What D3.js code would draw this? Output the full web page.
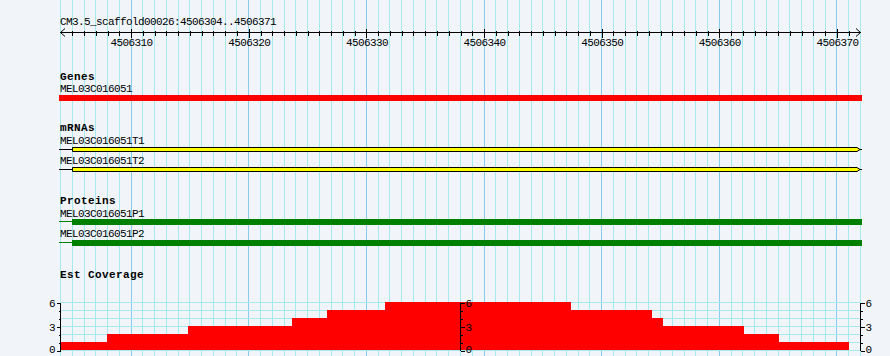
<!DOCTYPE html>
<html>
<head>
<meta charset="utf-8">
<script src="https://cdn.jsdelivr.net/npm/d3@7"></script>
<style>
  html, body { margin: 0; padding: 0; background: #f1f5fa; }
  svg { display: block; }
  text { font-family: "Liberation Mono", "DejaVu Sans Mono", monospace; fill: #000; }
</style>
</head>
<body>
<svg id="chart" width="890" height="356"></svg>
<script>
// ---------------- data ----------------
const refName = "CM3.5_scaffold00026";
const regionStart = 4506304;
const regionEnd = 4506371;
const majorTicks = [4506310, 4506320, 4506330, 4506340, 4506350, 4506360, 4506370];

const geneNames = ["MEL03C016051"];
const geneStarts = [4506304];
const geneEnds = [4506372];

const mrnaNames = ["MEL03C016051T1", "MEL03C016051T2"];
const mrnaStarts = [4506305, 4506305];
const mrnaEnds = [4506372, 4506372];

const proteinNames = ["MEL03C016051P1", "MEL03C016051P2"];
const proteinStarts = [4506305, 4506305];
const proteinEnds = [4506372, 4506372];

const covStarts = [4506304, 4506308.0, 4506314.88, 4506323.72, 4506326.7, 4506331.6, 4506347.4, 4506354.3, 4506355.25, 4506362.1, 4506365.1];
const covEnds   = [4506308.0, 4506314.88, 4506323.72, 4506326.7, 4506331.6, 4506347.4, 4506354.3, 4506355.25, 4506362.1, 4506365.1, 4506371.05];
const covValues = [1, 2, 3, 4, 5, 6, 5, 4, 3, 2, 1];
const covTicks = [0, 3, 6];
const covMinor = [1, 2, 4, 5];

// ---------------- drawing ----------------
const W = 890, H = 356;
const FONT = "Liberation Mono";
const svg = d3.select("#chart");
svg.append("rect").attr("width", W).attr("height", H).attr("fill", "#f1f5fa");

const x = d3.scaleLinear().domain([regionStart, regionEnd + 1]).range([60, 860]);
const px = v => Math.round(x(v)) + 0.5;

// vertical grid
const gridG = svg.append("g").attr("shape-rendering", "crispEdges");
gridG.selectAll("line").data(d3.range(regionStart, regionEnd + 2)).join("line")
  .attr("x1", d => px(d)).attr("x2", d => px(d))
  .attr("y1", 0).attr("y2", H)
  .attr("stroke", d => d % 10 === 0 ? "#86cdea" : "#a6e9ef")
  .attr("stroke-width", 1);

// coverage scale & horizontal grid
const y = d3.scaleLinear().domain([0, 6]).range([350, 302]);
gridG.selectAll("line.h").data(d3.range(0, 7)).join("line").attr("class", "h")
  .attr("x1", 60).attr("x2", 861)
  .attr("y1", d => Math.round(y(d)) + 0.5).attr("y2", d => Math.round(y(d)) + 0.5)
  .attr("stroke", "#a6e9ef");

function plain(sel) {
  return sel.attr("font-size", 11).attr("letter-spacing", -0.6).attr("font-family", FONT).attr("fill", "#000");
}

// ---- top ruler ----
plain(svg.append("text").attr("x", 60).attr("y", 25))
  .text(`${refName}:${regionStart}..${regionEnd}`);

const axisY = 32;
const ruler = svg.append("g").attr("transform", `translate(0,${axisY})`).attr("shape-rendering", "crispEdges");
const minorAxis = d3.axisBottom(x)
  .tickValues(d3.range(regionStart + 1, regionEnd + 1).filter(d => d % 10 !== 0))
  .tickSize(3).tickFormat("");
const minorG = ruler.append("g").attr("transform", "translate(0.5,0.5)").call(minorAxis);
minorG.select(".domain").remove();
minorG.selectAll(".tick line").attr("y1", -2).attr("stroke", "#000");

const majorAxis = d3.axisBottom(x).tickValues(majorTicks).tickSize(5).tickFormat(d3.format("d"));
const majorG = ruler.append("g").attr("transform", "translate(0.5,0.5)").call(majorAxis);
majorG.select(".domain").remove();
majorG.selectAll(".tick line").attr("y1", -4).attr("stroke", "#000");
plain(majorG.selectAll(".tick text").attr("y", 13.5).attr("dy", 0));

ruler.append("line").attr("x1", 60).attr("x2", 861).attr("y1", 0.5).attr("y2", 0.5).attr("stroke", "#000");
ruler.append("path").attr("d", "M65,-3.5 L60.5,0.5 L65,4.5").attr("fill", "none").attr("stroke", "#000").attr("shape-rendering", "auto");
ruler.append("path").attr("d", "M856,-3.5 L860.5,0.5 L856,4.5").attr("fill", "none").attr("stroke", "#000").attr("shape-rendering", "auto");

// ---- track labels ----
function boldLabel(txt, yy) {
  svg.append("text").attr("x", 60).attr("y", yy).attr("font-size", 11).attr("font-family", FONT)
    .attr("font-weight", "bold").attr("letter-spacing", 0.4).text(txt);
}
function nameLabel(txt, yy) {
  plain(svg.append("text").attr("x", 60).attr("y", yy)).text(txt);
}

// ---- Genes ----
boldLabel("Genes", 80);
const geneRows = [95];
geneNames.forEach((n, i) => {
  nameLabel(n, 92);
  svg.append("rect").attr("x", Math.round(x(geneStarts[i])) - 1)
    .attr("width", Math.round(x(geneEnds[i])) + 2 - (Math.round(x(geneStarts[i])) - 1))
    .attr("y", geneRows[i]).attr("height", 6).attr("fill", "#ff0000").attr("shape-rendering", "crispEdges");
});

// ---- mRNAs ----
boldLabel("mRNAs", 131);
const mrnaLabelY = [144, 164];
const mrnaTop = [147, 167];
mrnaNames.forEach((n, i) => {
  nameLabel(n, mrnaLabelY[i]);
  const x0 = Math.round(x(mrnaStarts[i])) + 0.5;
  const x1 = Math.round(x(mrnaEnds[i]));
  const t = mrnaTop[i] + 0.5, b = t + 4, m = t + 2;
  svg.append("line").attr("x1", 59).attr("x2", x0).attr("y1", m).attr("y2", m)
    .attr("stroke", "#000").attr("shape-rendering", "crispEdges");
  svg.append("line").attr("x1", x1).attr("x2", x1 + 2).attr("y1", m).attr("y2", m)
    .attr("stroke", "#000").attr("shape-rendering", "crispEdges");
  svg.append("path")
    .attr("d", `M${x0},${t} H${x1 - 3} L${x1},${m} L${x1 - 3},${b} H${x0} Z`)
    .attr("fill", "#ffff00").attr("stroke", "#000").attr("stroke-width", 1);
});

// ---- Proteins ----
boldLabel("Proteins", 204);
const protLabelY = [216.5, 237];
const protTop = [219, 240];
proteinNames.forEach((n, i) => {
  nameLabel(n, protLabelY[i]);
  const x0 = Math.round(x(proteinStarts[i]));
  const x1 = Math.round(x(proteinEnds[i])) + 2;
  svg.append("line").attr("x1", 59).attr("x2", x0).attr("y1", protTop[i] + 2.5).attr("y2", protTop[i] + 2.5)
    .attr("stroke", "#008000").attr("shape-rendering", "crispEdges");
  svg.append("rect").attr("x", x0).attr("width", x1 - x0).attr("y", protTop[i]).attr("height", 6)
    .attr("fill", "#008000").attr("shape-rendering", "crispEdges");
});

// ---- Est Coverage ----
boldLabel("Est Coverage", 277.5);
svg.append("g").attr("shape-rendering", "crispEdges")
  .selectAll("rect").data(covValues).join("rect")
  .attr("x", (d, i) => Math.round(x(covStarts[i])))
  .attr("width", (d, i) => Math.round(x(covEnds[i])) - Math.round(x(covStarts[i])))
  .attr("y", d => Math.round(y(d)))
  .attr("height", d => 350 - Math.round(y(d)))
  .attr("fill", "#ff0000");

function yAxis(gen, xPos) {
  const g = svg.append("g").attr("transform", `translate(${xPos + 0.5},0.5)`).attr("shape-rendering", "crispEdges");
  const maj = gen(y).tickValues(covTicks).tickSize(4).tickPadding(1).tickFormat(d3.format("d"));
  const gm = g.append("g").call(maj);
  gm.select(".domain").attr("stroke", "#000");
  gm.selectAll(".tick line").attr("stroke", "#000");
  plain(gm.selectAll(".tick text").attr("dy", d => d === 0 ? "0.2em" : "0.36em")).attr("letter-spacing", 0);
  const mn = gen(y).tickValues(covMinor).tickSize(2).tickFormat("");
  const gn = g.append("g").call(mn);
  gn.select(".domain").remove();
  gn.selectAll(".tick line").attr("stroke", "#000");
  gm.select(".domain").attr("d", `M0,${Math.round(y(6))}V${Math.round(y(0))}`);
}
yAxis(d3.axisLeft, 60);
yAxis(d3.axisRight, Math.round(x((regionStart + regionEnd + 1) / 2)));
yAxis(d3.axisRight, 860);
</script>
</body>
</html>
